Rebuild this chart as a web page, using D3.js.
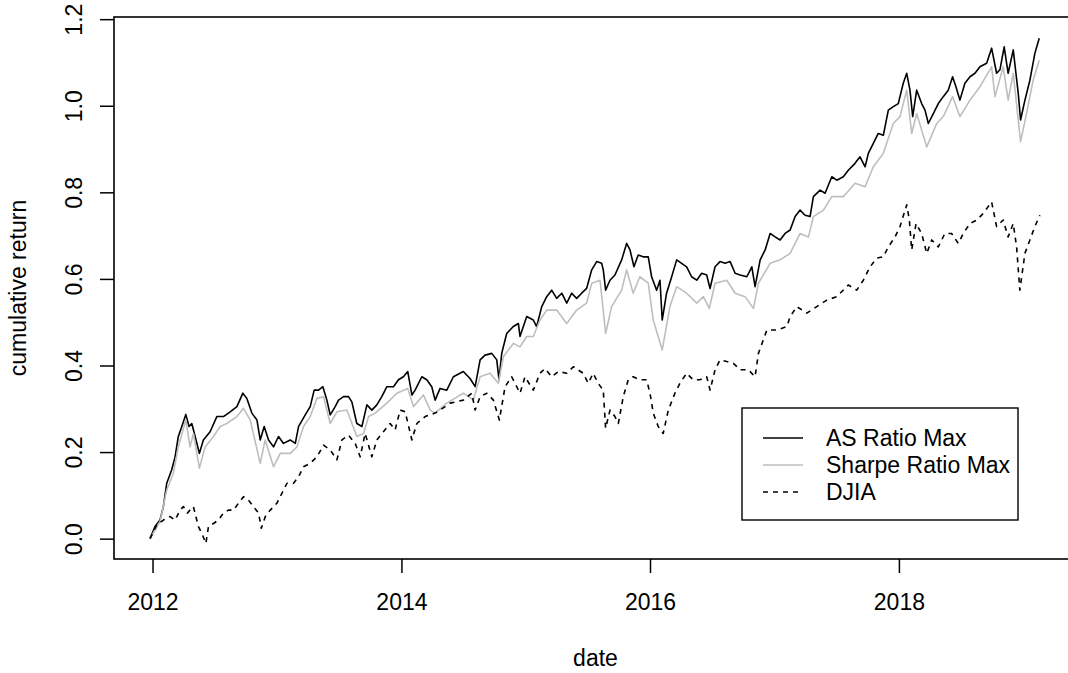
<!DOCTYPE html>
<html>
<head>
<meta charset="utf-8">
<script src="https://cdn.jsdelivr.net/npm/d3@7"></script>
<style>
  html, body { margin: 0; padding: 0; background: #fff; }
  svg { display: block; font-family: "Liberation Sans", Arial, Helvetica, sans-serif; }
</style>
</head>
<body>
<svg id="chart" width="1068" height="673"></svg>
<script>
// ---- data (decimal years, cumulative return) ----
const asYears = [2011.980,2012.020,2012.060,2012.087,2012.114,2012.154,2012.181,2012.207,2012.235,2012.267,2012.293,2012.315,2012.342,2012.376,2012.408,2012.462,2012.516,2012.569,2012.623,2012.677,2012.725,2012.757,2012.797,2012.838,2012.864,2012.896,2012.931,2012.971,2013.011,2013.051,2013.105,2013.146,2013.172,2013.226,2013.266,2013.298,2013.333,2013.368,2013.400,2013.427,2013.467,2013.494,2013.534,2013.574,2013.601,2013.641,2013.682,2013.722,2013.762,2013.802,2013.842,2013.883,2013.936,2013.976,2014.016,2014.051,2014.084,2014.110,2014.164,2014.204,2014.244,2014.271,2014.311,2014.365,2014.418,2014.498,2014.552,2014.593,2014.633,2014.673,2014.727,2014.767,2014.785,2014.807,2014.847,2014.900,2014.941,2014.954,2015.008,2015.061,2015.088,2015.129,2015.169,2015.209,2015.249,2015.290,2015.330,2015.370,2015.410,2015.450,2015.490,2015.531,2015.571,2015.611,2015.624,2015.643,2015.678,2015.718,2015.772,2015.812,2015.839,2015.871,2015.905,2015.945,2015.986,2016.013,2016.053,2016.080,2016.098,2016.133,2016.174,2016.214,2016.254,2016.294,2016.334,2016.375,2016.415,2016.455,2016.482,2016.522,2016.562,2016.602,2016.643,2016.683,2016.723,2016.777,2016.817,2016.843,2016.884,2016.924,2016.964,2017.004,2017.044,2017.084,2017.125,2017.165,2017.205,2017.245,2017.285,2017.312,2017.366,2017.406,2017.460,2017.500,2017.553,2017.593,2017.647,2017.687,2017.728,2017.754,2017.794,2017.834,2017.875,2017.915,2017.955,2017.995,2018.035,2018.063,2018.089,2018.111,2018.143,2018.183,2018.210,2018.237,2018.277,2018.317,2018.357,2018.397,2018.432,2018.459,2018.491,2018.531,2018.572,2018.612,2018.652,2018.706,2018.746,2018.786,2018.813,2018.847,2018.879,2018.920,2018.960,2018.979,2019.014,2019.054,2019.094,2019.129];
const asValues = [0.000,0.028,0.043,0.074,0.128,0.159,0.189,0.236,0.259,0.287,0.259,0.266,0.236,0.197,0.228,0.247,0.282,0.282,0.293,0.305,0.336,0.324,0.290,0.274,0.228,0.259,0.228,0.212,0.236,0.220,0.228,0.220,0.259,0.286,0.305,0.343,0.343,0.351,0.320,0.286,0.305,0.320,0.328,0.328,0.316,0.266,0.259,0.309,0.297,0.309,0.328,0.351,0.351,0.367,0.374,0.386,0.332,0.343,0.374,0.367,0.351,0.320,0.347,0.343,0.374,0.386,0.370,0.351,0.413,0.424,0.428,0.413,0.367,0.428,0.474,0.490,0.497,0.467,0.513,0.505,0.490,0.536,0.559,0.574,0.555,0.567,0.544,0.567,0.555,0.567,0.578,0.621,0.640,0.636,0.621,0.574,0.597,0.609,0.644,0.682,0.667,0.628,0.655,0.651,0.651,0.605,0.574,0.597,0.505,0.567,0.605,0.644,0.636,0.628,0.605,0.597,0.613,0.609,0.578,0.628,0.640,0.636,0.640,0.613,0.609,0.605,0.628,0.582,0.644,0.667,0.705,0.697,0.690,0.705,0.713,0.744,0.759,0.747,0.744,0.790,0.805,0.798,0.836,0.828,0.836,0.851,0.867,0.882,0.859,0.890,0.913,0.936,0.932,0.990,0.998,1.005,1.052,1.075,1.036,0.975,1.036,1.005,0.990,0.959,0.982,1.005,1.021,1.036,1.067,1.044,1.013,1.052,1.067,1.075,1.090,1.098,1.133,1.075,1.083,1.136,1.075,1.129,1.029,0.967,1.013,1.059,1.121,1.156];

const srYears = [2011.980,2012.060,2012.114,2012.167,2012.207,2012.267,2012.301,2012.328,2012.376,2012.422,2012.489,2012.543,2012.596,2012.677,2012.730,2012.784,2012.864,2012.904,2012.971,2013.025,2013.105,2013.159,2013.212,2013.266,2013.320,2013.373,2013.427,2013.481,2013.561,2013.641,2013.695,2013.736,2013.789,2013.883,2013.963,2014.051,2014.097,2014.177,2014.232,2014.271,2014.365,2014.498,2014.579,2014.633,2014.713,2014.780,2014.820,2014.900,2014.954,2015.008,2015.061,2015.115,2015.169,2015.249,2015.330,2015.410,2015.490,2015.531,2015.598,2015.643,2015.691,2015.772,2015.812,2015.865,2015.918,2015.986,2016.026,2016.098,2016.160,2016.214,2016.294,2016.375,2016.428,2016.476,2016.522,2016.616,2016.683,2016.763,2016.830,2016.870,2016.964,2017.044,2017.125,2017.205,2017.272,2017.312,2017.393,2017.460,2017.553,2017.647,2017.728,2017.794,2017.875,2017.955,2018.009,2018.063,2018.103,2018.143,2018.224,2018.304,2018.357,2018.432,2018.491,2018.572,2018.652,2018.746,2018.773,2018.839,2018.879,2018.920,2018.979,2019.027,2019.080,2019.129];
const srValues = [0.000,0.039,0.112,0.151,0.212,0.274,0.212,0.243,0.163,0.212,0.236,0.259,0.266,0.282,0.301,0.274,0.174,0.228,0.166,0.197,0.197,0.212,0.259,0.282,0.324,0.328,0.266,0.293,0.297,0.236,0.243,0.282,0.290,0.313,0.336,0.347,0.305,0.332,0.297,0.290,0.313,0.336,0.320,0.374,0.382,0.359,0.420,0.451,0.443,0.467,0.467,0.505,0.528,0.528,0.497,0.528,0.544,0.590,0.597,0.474,0.536,0.574,0.621,0.567,0.605,0.590,0.505,0.436,0.536,0.582,0.567,0.544,0.559,0.532,0.590,0.597,0.567,0.559,0.532,0.590,0.636,0.644,0.659,0.705,0.697,0.744,0.759,0.790,0.790,0.821,0.813,0.859,0.890,0.959,0.975,1.036,0.936,0.982,0.905,0.959,0.975,1.021,0.975,1.013,1.044,1.090,1.021,1.090,1.013,1.075,0.917,0.982,1.059,1.105];

const djYears = [2011.980,2012.034,2012.087,2012.141,2012.181,2012.221,2012.248,2012.280,2012.301,2012.328,2012.368,2012.396,2012.428,2012.449,2012.489,2012.529,2012.569,2012.609,2012.650,2012.690,2012.730,2012.770,2012.810,2012.851,2012.873,2012.905,2012.945,2012.998,2013.039,2013.079,2013.132,2013.172,2013.212,2013.266,2013.320,2013.373,2013.427,2013.481,2013.521,2013.574,2013.628,2013.668,2013.708,2013.762,2013.802,2013.855,2013.909,2013.949,2013.990,2014.030,2014.084,2014.124,2014.191,2014.271,2014.311,2014.391,2014.498,2014.566,2014.593,2014.633,2014.687,2014.740,2014.788,2014.834,2014.887,2014.954,2014.994,2015.061,2015.115,2015.155,2015.209,2015.262,2015.330,2015.383,2015.463,2015.503,2015.543,2015.583,2015.624,2015.643,2015.678,2015.718,2015.745,2015.785,2015.825,2015.865,2015.918,2015.973,2016.000,2016.026,2016.066,2016.106,2016.147,2016.200,2016.240,2016.294,2016.347,2016.401,2016.455,2016.482,2016.522,2016.562,2016.616,2016.669,2016.723,2016.790,2016.843,2016.870,2016.938,2017.018,2017.098,2017.125,2017.178,2017.259,2017.339,2017.420,2017.500,2017.593,2017.661,2017.714,2017.768,2017.821,2017.875,2017.915,2017.969,2018.009,2018.063,2018.084,2018.103,2018.138,2018.183,2018.224,2018.264,2018.317,2018.370,2018.424,2018.478,2018.518,2018.572,2018.626,2018.678,2018.746,2018.786,2018.839,2018.879,2018.920,2018.947,2018.973,2019.014,2019.054,2019.094,2019.134];
const djValues = [0.000,0.032,0.043,0.051,0.043,0.066,0.074,0.059,0.066,0.074,0.028,0.012,-0.011,0.028,0.035,0.043,0.059,0.066,0.066,0.082,0.097,0.089,0.074,0.059,0.024,0.051,0.066,0.082,0.105,0.128,0.128,0.143,0.166,0.174,0.189,0.216,0.205,0.182,0.228,0.239,0.220,0.189,0.243,0.189,0.228,0.247,0.266,0.251,0.297,0.293,0.228,0.266,0.282,0.290,0.297,0.313,0.320,0.336,0.297,0.328,0.336,0.320,0.274,0.351,0.374,0.336,0.374,0.343,0.382,0.393,0.374,0.386,0.382,0.397,0.382,0.359,0.382,0.359,0.343,0.255,0.297,0.282,0.266,0.328,0.367,0.374,0.367,0.367,0.336,0.290,0.259,0.243,0.297,0.336,0.359,0.382,0.367,0.367,0.374,0.343,0.390,0.413,0.409,0.405,0.390,0.390,0.374,0.428,0.482,0.482,0.490,0.513,0.536,0.521,0.536,0.551,0.559,0.586,0.574,0.597,0.628,0.648,0.651,0.674,0.697,0.721,0.771,0.736,0.667,0.728,0.705,0.659,0.690,0.674,0.705,0.705,0.682,0.705,0.728,0.736,0.751,0.778,0.721,0.736,0.697,0.728,0.674,0.574,0.659,0.690,0.721,0.747];

const seriesNames = ["AS Ratio Max", "Sharpe Ratio Max", "DJIA"];
const yTicks = [0.0, 0.2, 0.4, 0.6, 0.8, 1.0, 1.2];
const xTickYears = [2012, 2014, 2016, 2018];
const xLabel = "date";
const yLabel = "cumulative return";

// ---- helpers ----
function decToDate(y) {
  const yr = Math.floor(y);
  const start = Date.UTC(yr, 0, 1), end = Date.UTC(yr + 1, 0, 1);
  return new Date(start + (y - yr) * (end - start));
}

const svg = d3.select("#chart");
const plot = { left: 114, right: 1077, top: 17, bottom: 559 };
const FONT = 23;

const x = d3.scaleUtc()
  .domain([decToDate(2011.690), decToDate(2019.433)])
  .range([plot.left, plot.right]);
const y = d3.scaleLinear()
  .domain([-0.047, 1.205])
  .range([plot.bottom, plot.top]);

svg.append("rect").attr("width", 1068).attr("height", 673).attr("fill", "#fff");

// ---- lines ----
const line = d3.line().x(d => x(d[0])).y(d => y(d[1]));
const mk = (ys, vs) => ys.map((t, i) => [decToDate(t), vs[i]]);

const series = [
  { data: mk(asYears, asValues), color: "#000000", dash: null },
  { data: mk(srYears, srValues), color: "#bebebe", dash: null },
  { data: mk(djYears, djValues), color: "#000000", dash: "5,5" }
];

const gLines = svg.append("g");
series.forEach(s => {
  gLines.append("path")
    .attr("d", line(s.data))
    .attr("fill", "none")
    .attr("stroke", s.color)
    .attr("stroke-width", 1.6)
    .attr("stroke-linejoin", "round")
    .attr("stroke-dasharray", s.dash);
});

// ---- box ----
svg.append("rect")
  .attr("x", plot.left).attr("y", plot.top)
  .attr("width", plot.right - plot.left).attr("height", plot.bottom - plot.top)
  .attr("fill", "none").attr("stroke", "#000").attr("stroke-width", 1.6);

// ---- axes ----
const xAxis = d3.axisBottom(x)
  .tickValues(xTickYears.map(v => decToDate(v)))
  .tickFormat(d3.utcFormat("%Y"))
  .tickSize(14).tickPadding(0);
const gx = svg.append("g").attr("transform", `translate(0,${plot.bottom})`).call(xAxis);
gx.select(".domain").remove();
gx.selectAll(".tick line").attr("stroke", "#000").attr("stroke-width", 1.5);
gx.selectAll(".tick text")
  .attr("y", 51).attr("dy", null)
  .attr("fill", "#000")
  .style("font-size", FONT + "px");

const yAxis = d3.axisLeft(y)
  .tickValues(yTicks)
  .tickFormat(d3.format(".1f"))
  .tickSize(14);
const gy = svg.append("g").attr("transform", `translate(${plot.left},0)`).call(yAxis);
gy.select(".domain").remove();
gy.selectAll(".tick line").attr("stroke", "#000").attr("stroke-width", 1.5);
gy.selectAll(".tick text")
  .attr("x", null).attr("dy", null)
  .attr("transform", "translate(-32,0) rotate(-90)")
  .attr("text-anchor", "middle")
  .attr("fill", "#000")
  .style("font-size", FONT + "px");

// ---- axis titles ----
svg.append("text")
  .attr("x", (plot.left + plot.right) / 2).attr("y", 666)
  .attr("text-anchor", "middle").style("font-size", FONT + "px")
  .text(xLabel);
svg.append("text")
  .attr("transform", `translate(26,${(plot.top + plot.bottom) / 2}) rotate(-90)`)
  .attr("text-anchor", "middle").style("font-size", FONT + "px")
  .text(yLabel);

// ---- legend ----
const lg = svg.append("g");
lg.append("rect")
  .attr("x", 742).attr("y", 408).attr("width", 276).attr("height", 112)
  .attr("fill", "#fff").attr("stroke", "#000").attr("stroke-width", 1.4);
const rowY = [438, 465, 492];
series.forEach((s, i) => {
  lg.append("line")
    .attr("x1", 763).attr("x2", 803)
    .attr("y1", rowY[i]).attr("y2", rowY[i])
    .attr("stroke", s.color).attr("stroke-width", 1.6)
    .attr("stroke-dasharray", s.dash);
  lg.append("text")
    .attr("x", 826).attr("y", rowY[i] + 8)
    .style("font-size", FONT + "px")
    .text(seriesNames[i]);
});
</script>
</body>
</html>
